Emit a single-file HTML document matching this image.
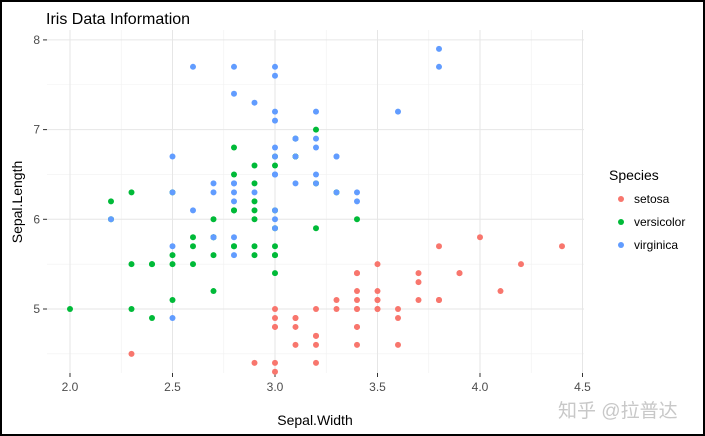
<!DOCTYPE html><html><head><style>
html,body{margin:0;padding:0;background:#fff}
#w{width:705px;height:436px;box-sizing:border-box;border:2px solid #000;position:relative;overflow:hidden;background:#fff}
text{font-family:"Liberation Sans",sans-serif}
</style></head><body><div id="w">
<svg id="s" width="705" height="436" style="position:absolute;left:-2px;top:-2px" xmlns="http://www.w3.org/2000/svg"></svg>
</div>
<script>
const s=document.getElementById('s');const NS='http://www.w3.org/2000/svg';
function el(t,a,txt){const e=document.createElementNS(NS,t);for(const k in a)e.setAttribute(k,a[k]);if(txt!==undefined)e.textContent=txt;s.appendChild(e);return e;}
const X=v=>70+(v-2)*205, Y=v=>309-(v-5)*89.7;
const L=47,R=584,T=30,B=373;
for(let v=2.25;v<4.5;v+=0.5)el('line',{x1:X(v),x2:X(v),y1:T,y2:B,stroke:'#f0f0f0','stroke-width':0.6});
for(let v=4.5;v<8;v+=1)el('line',{y1:Y(v),y2:Y(v),x1:L,x2:R,stroke:'#f0f0f0','stroke-width':0.6});
for(let v=2;v<=4.5;v+=0.5){el('line',{x1:X(v),x2:X(v),y1:T,y2:B,stroke:'#e6e6e6','stroke-width':1});
el('line',{x1:X(v),x2:X(v),y1:B,y2:B+4,stroke:'#333','stroke-width':1});
el('text',{x:X(v),y:B+18,'text-anchor':'middle','font-size':12,fill:'#4d4d4d'},v.toFixed(1));}
for(let v=5;v<=8;v++){el('line',{y1:Y(v),y2:Y(v),x1:L,x2:R,stroke:'#e6e6e6','stroke-width':1});
el('line',{y1:Y(v),y2:Y(v),x1:L-4,x2:L,stroke:'#333','stroke-width':1});
el('text',{x:L-7,y:Y(v)+4,'text-anchor':'end','font-size':12,fill:'#4d4d4d'},v);}
const d={
'#F8766D':"5.1,3.5;4.9,3.0;4.7,3.2;4.6,3.1;5.0,3.6;5.4,3.9;4.6,3.4;5.0,3.4;4.4,2.9;4.9,3.1;5.4,3.7;4.8,3.4;4.8,3.0;4.3,3.0;5.8,4.0;5.7,4.4;5.4,3.9;5.1,3.5;5.7,3.8;5.1,3.8;5.4,3.4;5.1,3.7;4.6,3.6;5.1,3.3;4.8,3.4;5.0,3.0;5.0,3.4;5.2,3.5;5.2,3.4;4.7,3.2;4.8,3.1;5.4,3.4;5.2,4.1;5.5,4.2;4.9,3.1;5.0,3.2;5.5,3.5;4.9,3.6;4.4,3.0;5.1,3.4;5.0,3.5;4.5,2.3;4.4,3.2;5.0,3.5;5.1,3.8;4.8,3.0;5.1,3.8;4.6,3.2;5.3,3.7;5.0,3.3",
'#00BA38':"7.0,3.2;6.4,3.2;6.9,3.1;5.5,2.3;6.5,2.8;5.7,2.8;6.3,3.3;4.9,2.4;6.6,2.9;5.2,2.7;5.0,2.0;5.9,3.0;6.0,2.2;6.1,2.9;5.6,2.9;6.7,3.1;5.6,3.0;5.8,2.7;6.2,2.2;5.6,2.5;5.9,3.2;6.1,2.8;6.3,2.5;6.1,2.8;6.4,2.9;6.6,3.0;6.8,2.8;6.7,3.0;6.0,2.9;5.7,2.6;5.5,2.4;5.5,2.4;5.8,2.7;6.0,2.7;5.4,3.0;6.0,3.4;6.7,3.1;6.3,2.3;5.6,3.0;5.5,2.5;5.5,2.6;6.1,3.0;5.8,2.6;5.0,2.3;5.6,2.7;5.7,3.0;5.7,2.9;6.2,2.9;5.1,2.5;5.7,2.8",
'#619CFF':"6.3,3.3;5.8,2.7;7.1,3.0;6.3,2.9;6.5,3.0;7.6,3.0;4.9,2.5;7.3,2.9;6.7,2.5;7.2,3.6;6.5,3.2;6.4,2.7;6.8,3.0;5.7,2.5;5.8,2.8;6.4,3.2;6.5,3.0;7.7,3.8;7.7,2.6;6.0,2.2;6.9,3.2;5.6,2.8;7.7,2.8;6.3,2.7;6.7,3.3;7.2,3.2;6.2,2.8;6.1,3.0;6.4,2.8;7.2,3.0;7.4,2.8;7.9,3.8;6.4,2.8;6.3,2.8;6.1,2.6;7.7,3.0;6.3,3.4;6.4,3.1;6.0,3.0;6.9,3.1;6.7,3.1;6.9,3.1;5.8,2.7;6.8,3.2;6.7,3.3;6.7,3.0;6.3,2.5;6.5,3.0;6.2,3.4;5.9,3.0"};
for(const c in d)d[c].split(';').forEach(p=>{const [sl,sw]=p.split(',').map(Number);el('circle',{cx:X(sw),cy:Y(sl),r:3,fill:c});});
el('text',{x:46,y:24,'font-size':16,fill:'#000'},'Iris Data Information');
el('text',{x:315,y:425,'text-anchor':'middle','font-size':14,fill:'#000'},'Sepal.Width');
el('text',{x:22,y:202,'text-anchor':'middle','font-size':14,fill:'#000',transform:'rotate(-90 22 202)'},'Sepal.Length');
el('text',{x:609,y:180,'font-size':14,fill:'#000'},'Species');
[['#F8766D','setosa',199],['#00BA38','versicolor',222],['#619CFF','virginica',245]].forEach(([c,t,y])=>{
el('circle',{cx:621,cy:y,r:3,fill:c});el('text',{x:634,y:y+4,'font-size':12,fill:'#000'},t);});
el('text',{x:558,y:417,'font-size':19,fill:'#c8c8c8',"font-family":"'Liberation Sans','Noto Sans CJK SC',sans-serif"},'知乎 @拉普达');
</script></body></html>
